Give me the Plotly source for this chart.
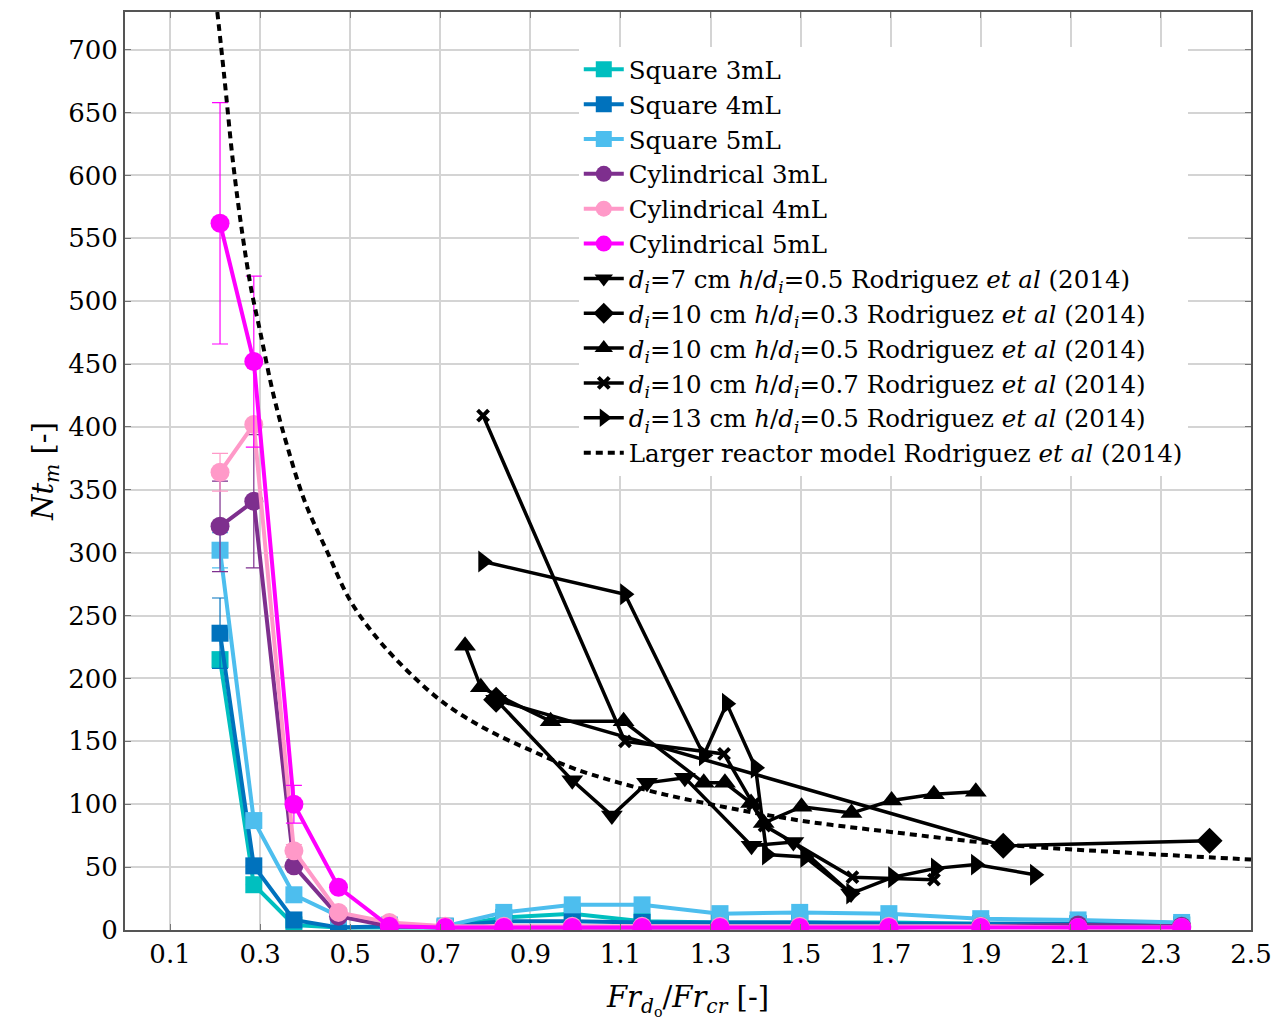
import plotly.graph_objects as go

# ---- shared x positions of the experimental points (Fr_do / Fr_cr) ----
fr = [0.211, 0.286, 0.375, 0.474, 0.587, 0.711, 0.841, 0.993, 1.148,
      1.321, 1.498, 1.696, 1.900, 2.116, 2.346]

# ---- mixing number Nt_m for each vessel / volume ----
sq3 = [215, 36, 4, 2, 2, 2, 10, 13, 7, 6, 6, 6, 5, 5, 4]
sq4 = [236, 51, 8, 2, 3, 3, 7, 7, 6, 6, 6, 5, 5, 5, 4]
sq5 = [302, 87, 28, 11, 4, 3, 14, 20, 20, 13, 14, 13, 9, 8, 6]
cy3 = [321, 341, 51, 11, 3, 2, 2, 2, 2, 2, 2, 2, 3, 4, 3]
cy4 = [364, 402, 63, 14, 6, 3, 3, 3, 3, 3, 3, 3, 3, 2, 2]
cy5 = [562, 452, 100, 34, 3, 2, 2, 2, 2, 2, 2, 2, 2, 2, 2]

# ---- standard deviations (error bars) ----
sq3_err = [0, 0, 0, 0, 0, 0, 0, 0, 0, 0, 0, 0, 0, 0, 0]
sq4_err = [28, 0, 0, 0, 0, 0, 0, 0, 0, 0, 0, 0, 0, 0, 0]
sq5_err = [14, 0, 0, 0, 0, 0, 0, 0, 0, 0, 0, 0, 0, 0, 0]
cy3_err = [36, 53, 0, 0, 0, 0, 0, 0, 0, 0, 0, 0, 0, 0, 0]
cy4_err = [15, 0, 5, 0, 0, 0, 0, 0, 0, 0, 0, 0, 0, 0, 0]
cy5_err = [96, 68, 15, 3, 0, 0, 0, 0, 0, 0, 0, 0, 0, 0, 0]

# ---- Rodriguez et al (2014) data ----
r7_05_x = [0.824, 0.993, 1.081, 1.159, 1.243, 1.391, 1.484, 1.612]
r7_05_y = [183, 119, 91, 117, 121, 67, 70, 29]

r10_03_x = [0.824, 1.950, 2.408]
r10_03_y = [183, 67, 71]

r10_05_x = [0.755, 0.790, 0.945, 1.107, 1.285, 1.332, 1.390, 1.418, 1.502,
            1.613, 1.702, 1.796, 1.889]
r10_05_y = [226, 193, 166, 166, 117, 117, 101, 85, 98, 93, 103, 108, 110]

r10_07_x = [0.795, 1.110, 1.330, 1.395, 1.420, 1.615, 1.796]
r10_07_y = [409, 150, 140, 100, 83, 42, 40]

r13_05_x = [0.795, 1.110, 1.285, 1.336, 1.400, 1.425, 1.510, 1.612, 1.705,
            1.800, 1.889, 2.020]
r13_05_y = [293, 267, 139, 180, 129, 60, 58, 29, 42, 49, 52, 44]

# larger reactor model curve, read along its length
model_x = [0.205, 0.22, 0.24, 0.26, 0.28, 0.30, 0.33, 0.36, 0.40, 0.45,
           0.50, 0.56, 0.63, 0.71, 0.80, 0.90, 1.00, 1.15, 1.30, 1.50,
           1.70, 1.95, 2.20, 2.50]
model_y = [730, 680, 610, 555, 510, 476, 425, 385, 340, 300, 262, 232, 205,
           180, 160, 143, 128, 112, 100, 87, 78, 68, 62, 56]

FONT = "DejaVu Serif"

def rod(name):
    return (f"<i>d</i><sub><i>i</i></sub>={name[0]} cm "
            f"<i>h</i>/<i>d</i><sub><i>i</i></sub>={name[1]} "
            "Rodriguez <i>et al</i> (2014)")

fig = go.Figure()

lab_series = [
    ("Square 3mL", sq3, sq3_err, "#00BFBF", "square"),
    ("Square 4mL", sq4, sq4_err, "#0072BD", "square"),
    ("Square 5mL", sq5, sq5_err, "#4DBEEE", "square"),
    ("Cylindrical 3mL", cy3, cy3_err, "#7E2F8E", "circle"),
    ("Cylindrical 4mL", cy4, cy4_err, "#FF99C8", "circle"),
    ("Cylindrical 5mL", cy5, cy5_err, "#FF00FF", "circle"),
]
for name, y, err, col, sym in lab_series:
    fig.add_trace(go.Scatter(
        x=fr, y=y, name=name, mode="lines+markers",
        line=dict(color=col, width=4),
        marker=dict(symbol=sym, size=17 if sym == "square" else 19, color=col),
        error_y=dict(type="data", array=err, visible=True, color=col,
                     thickness=1.2, width=8),
    ))

rod_series = [
    (("7", "0.5"), r7_05_x, r7_05_y, "triangle-down", 19),
    (("10", "0.3"), r10_03_x, r10_03_y, "diamond", 20),
    (("10", "0.5"), r10_05_x, r10_05_y, "triangle-up", 19),
    (("10", "0.7"), r10_07_x, r10_07_y, "x-thin", 11),
    (("13", "0.5"), r13_05_x, r13_05_y, "triangle-right", 19),
]
for key, x, y, sym, size in rod_series:
    marker = dict(symbol=sym, size=size, color="black")
    if sym == "x-thin":
        marker["line"] = dict(color="black", width=4)
    fig.add_trace(go.Scatter(
        x=x, y=y, name=rod(key), mode="lines+markers",
        line=dict(color="black", width=3.5), marker=marker,
    ))

fig.add_trace(go.Scatter(
    x=model_x, y=model_y, mode="lines", line_shape="spline",
    name="Larger reactor model Rodriguez <i>et al</i> (2014)",
    line=dict(color="black", width=4, dash="7px,5px"),
))

axis_common = dict(
    showgrid=True, gridcolor="#D4D4D4", gridwidth=1.5,
    showline=True, linecolor="#555555", linewidth=2, mirror="ticks",
    ticks="inside", ticklen=6, tickcolor="#777777",
    tickfont=dict(family=FONT, size=26, color="black"),
    zeroline=False,
)

fig.update_layout(
    width=1282, height=1026,
    margin=dict(l=125, r=24, t=10, b=96),
    paper_bgcolor="white", plot_bgcolor="white",
    font=dict(family=FONT, size=24.5, color="black"),
    xaxis=dict(range=[0, 2.5], tickvals=[0.1, 0.3, 0.5, 0.7, 0.9, 1.1, 1.3,
                                         1.5, 1.7, 1.9, 2.1, 2.3, 2.5],
               ticktext=["0.1", "0.3", "0.5", "0.7", "0.9", "1.1", "1.3",
                         "1.5", "1.7", "1.9", "2.1", "2.3", "2.5"],
               title=dict(text="<i>Fr</i><sub><i>d</i><sub>o</sub></sub>/<i>Fr</i><sub><i>cr</i></sub> [-]",
                          font=dict(family=FONT, size=29), standoff=18),
               **axis_common),
    yaxis=dict(range=[0, 730], tickvals=list(range(0, 701, 50)),
               title=dict(text="<i>Nt</i><sub><i>m</i></sub> [-]",
                          font=dict(family=FONT, size=29), standoff=6),
               **axis_common),
    legend=dict(x=0.403, y=0.962, xanchor="left", yanchor="top",
                bgcolor="white", borderwidth=0, itemwidth=40,
                tracegroupgap=0,
                font=dict(family=FONT, size=24.5, color="black")),
    showlegend=True,
)

fig.write_html("out.html")
